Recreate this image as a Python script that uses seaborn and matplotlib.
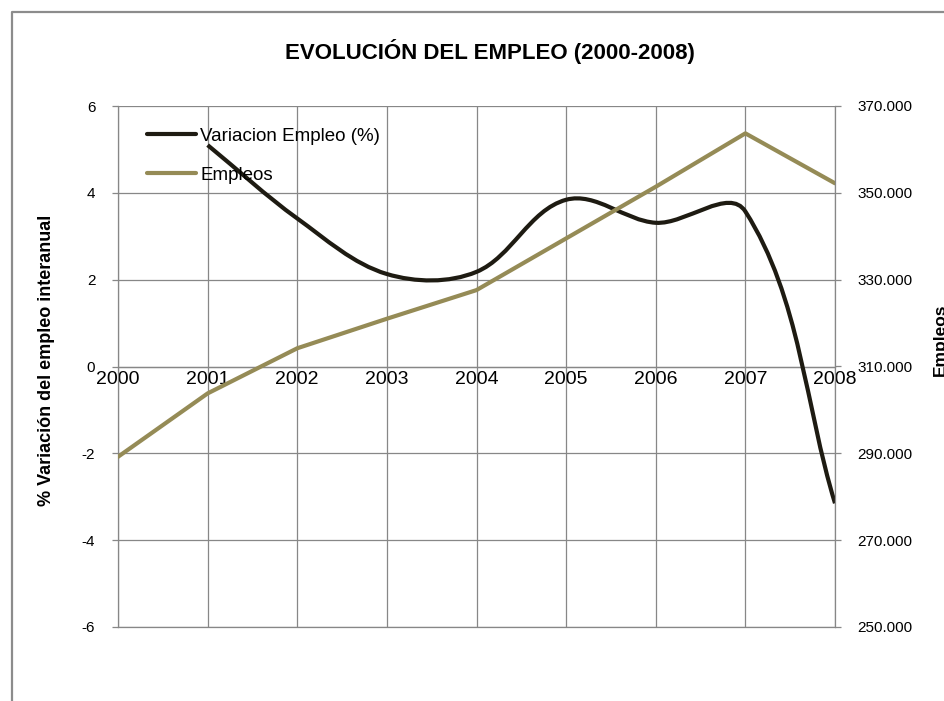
import numpy as np
import pandas as pd
import seaborn as sns
import matplotlib
matplotlib.use("Agg")
import matplotlib.pyplot as plt
from matplotlib.path import Path
from matplotlib.patches import PathPatch
from matplotlib.lines import Line2D
from matplotlib.ticker import FuncFormatter

# data
years = [2000, 2001, 2002, 2003, 2004, 2005, 2006, 2007, 2008]
variacion = [np.nan, 5.10, 3.41, 2.13, 2.18, 3.84, 3.31, 3.57, -3.15]
empleos = [289200, 303800, 314200, 321000, 327600, 339500, 351400, 363700, 352200]
left_ticks = [-6, -4, -2, 0, 2, 4, 6]
right_ticks = [250000, 270000, 290000, 310000, 330000, 350000, 370000]

df = pd.DataFrame({"year": years, "var": variacion, "emp": empleos})

sns.set_style("white")
plt.rcParams['font.family'] = ['Liberation Sans', 'DejaVu Sans']
plt.rcParams['axes.unicode_minus'] = False
plt.rcParams['text.color'] = 'black'
plt.rcParams['xtick.labelcolor'] = 'black'
plt.rcParams['ytick.labelcolor'] = 'black'

GRID = '#878787'
DARK = '#1e1b12'
OLIVE = '#958b56'

W, H = 944, 701
fig = plt.figure(figsize=(W / 100, H / 100), dpi=100)
ax = fig.add_axes([118 / W, 1 - 627 / H, (835 - 118) / W, (627 - 106) / H])
ax2 = ax.twinx()

ax.set_xlim(2000, 2008)
ax.set_ylim(-6, 6)
ax2.set_ylim(250000, 370000)

# gridlines
ax.set_xticks(years)
ax.set_yticks(left_ticks)
ax.grid(True, color=GRID, lw=0.9)
ax.set_axisbelow(True)

# spines
ax.spines['top'].set_visible(False)
ax.spines['right'].set_visible(False)
ax.spines['bottom'].set_position(('data', 0))
for s in ['left', 'bottom']:
    ax.spines[s].set_color(GRID)
    ax.spines[s].set_linewidth(0.9)
for s in ['top', 'left']:
    ax2.spines[s].set_visible(False)
for s in ['right', 'bottom']:
    ax2.spines[s].set_color(GRID)
    ax2.spines[s].set_linewidth(0.9)

ax.tick_params(axis='x', length=0, pad=3, labelsize=14, labelcolor='black')
ax.tick_params(axis='y', left=True, length=4.3, width=0.9, color=GRID,
               direction='out', pad=12, labelsize=11, labelcolor='black')
ax2.set_yticks(right_ticks)
ax2.yaxis.set_major_formatter(FuncFormatter(lambda v, p: f"{v:,.0f}".replace(',', '.')))
ax2.tick_params(axis='y', right=True, length=4.3, width=0.9, color=GRID,
                direction='out', pad=12, labelsize=11, labelcolor='black')
ax2.tick_params(axis='x', bottom=False, labelbottom=False)
ax2.grid(False)

# employment line
sns.lineplot(data=df, x="year", y="emp", ax=ax2, color=OLIVE, lw=3)
ax2.set_xlabel("")
ax2.set_ylabel("")
ax.set_xlabel("")


# smoothed line (excel-like bezier through the points)
def smooth_path(axis, x, y):
    pts = axis.transData.transform(np.column_stack([x, y]))
    n = len(pts)
    tang = np.zeros_like(pts)
    for i in range(n):
        d = pts[min(i + 1, n - 1)] - pts[max(i - 1, 0)]
        tang[i] = d / np.hypot(*d)
    verts = [pts[0]]
    codes = [Path.MOVETO]
    for i in range(n - 1):
        seg = np.hypot(*(pts[i + 1] - pts[i])) / 3
        verts += [pts[i] + tang[i] * seg, pts[i + 1] - tang[i + 1] * seg, pts[i + 1]]
        codes += [Path.CURVE4] * 3
    verts = axis.transData.inverted().transform(np.array(verts))
    return Path(verts, codes)


sub = df.dropna(subset=["var"])
ax.add_patch(PathPatch(smooth_path(ax, sub["year"].values, sub["var"].values),
                       fill=False, edgecolor=DARK, lw=3, capstyle='butt', zorder=3))

handles = [Line2D([], [], color=DARK, lw=3), Line2D([], [], color=OLIVE, lw=3)]
ax2.legend(handles, ["Variacion Empleo (%)", "Empleos"], loc='upper left',
           bbox_to_anchor=(0.04, 0.958), frameon=False, handlelength=2.65,
           handletextpad=0.2, labelspacing=1.15, borderpad=0, borderaxespad=0,
           prop={'size': 13.5}, labelcolor='black')

fig.text(490 / W, 1 - 52 / H, "EVOLUCIÓN DEL EMPLEO (2000-2008)", ha='center',
         va='center', fontsize=16, fontweight='bold', color='black')
fig.text(47 / W, 1 - 360 / H, "% Variación del empleo interanual", rotation=90,
         ha='center', va='center', fontsize=13, fontweight='bold', color='black')
fig.text(933 / W, 1 - 340 / H, "Empleos", rotation=90, ha='left', va='center',
         fontsize=12.5, fontweight='bold', color='black')

# chart border
fig.add_artist(Line2D([12 / W, 12 / W, 1], [0, 1 - 12 / H, 1 - 12 / H],
                      transform=fig.transFigure, color='#8c8c8c', lw=1.6))

fig.savefig("out.png", dpi=100)
